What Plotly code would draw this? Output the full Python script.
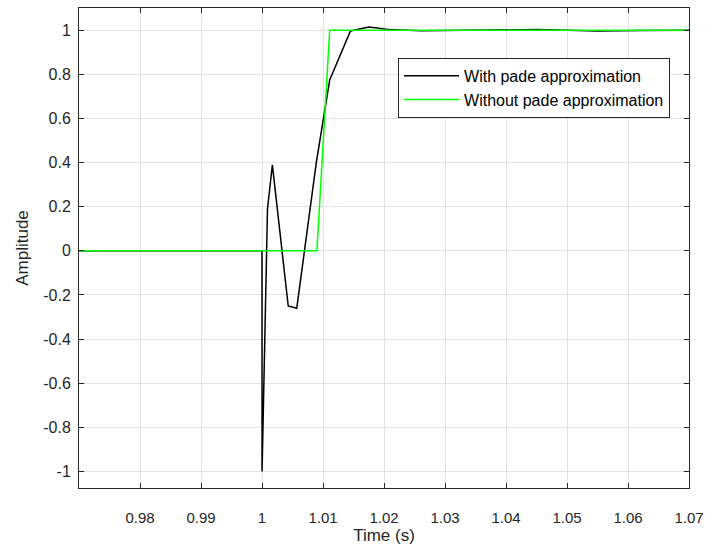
import plotly.graph_objects as go

# With pade approximation (black)
t_pade = [0.97, 1.0, 1.00001, 1.0009, 1.0017, 1.0043, 1.0057, 1.0089, 1.0111, 1.0145,
          1.0175, 1.021, 1.026, 1.032, 1.038, 1.045, 1.050, 1.055, 1.062, 1.07]
y_pade = [0.0, 0.0, -1.0, 0.19, 0.39, -0.25, -0.26, 0.40, 0.775, 0.997,
          1.015, 1.003, 0.998, 0.999, 1.0, 1.003, 1.0, 0.997, 0.999, 1.0]

# Without pade approximation (green)
t_nopade = [0.97, 1.009, 1.0111, 1.07]
y_nopade = [0.0, 0.0, 1.0, 1.0]

x_ticks = [0.98, 0.99, 1.0, 1.01, 1.02, 1.03, 1.04, 1.05, 1.06, 1.07]
x_ticklabels = ["0.98", "0.99", "1", "1.01", "1.02", "1.03", "1.04", "1.05", "1.06", "1.07"]
y_ticks = [-1, -0.8, -0.6, -0.4, -0.2, 0, 0.2, 0.4, 0.6, 0.8, 1]
y_ticklabels = ["-1", "-0.8", "-0.6", "-0.4", "-0.2", "0", "0.2", "0.4", "0.6", "0.8", "1"]

FONT = "Liberation Sans, Arial"
TXT = "#262626"

fig = go.Figure()
fig.add_trace(go.Scatter(x=t_pade, y=y_pade, mode="lines", name="With pade approximation",
                         line=dict(color="black", width=1.5)))
fig.add_trace(go.Scatter(x=t_nopade, y=y_nopade, mode="lines", name="Without pade approximation",
                         line=dict(color="#00ff00", width=1.5)))

axis_common = dict(
    showline=True, linecolor=TXT, linewidth=1, mirror="ticks",
    ticks="inside", ticklen=5, tickcolor=TXT,
    showgrid=True, gridcolor="#e3e3e3", gridwidth=1, zeroline=False,
)

fig.update_xaxes(range=[0.97, 1.07], tickvals=x_ticks, ticktext=x_ticklabels,
                 ticklabelstandoff=16, tickfont=dict(family=FONT, size=15, color=TXT),
                 title=dict(text="Time (s)", font=dict(family=FONT, size=17, color=TXT), standoff=3),
                 **axis_common)
fig.update_yaxes(range=[-1.075, 1.101], tickvals=y_ticks, ticktext=y_ticklabels,
                 ticklabelstandoff=4, tickfont=dict(family=FONT, size=16, color=TXT),
                 title=dict(text="Amplitude", font=dict(family=FONT, size=17, color=TXT), standoff=10),
                 **axis_common)

fig.update_layout(
    width=705, height=550,
    margin=dict(l=79, r=16, t=8, b=62, autoexpand=False),
    plot_bgcolor="white", paper_bgcolor="white",
    legend=dict(x=0.523, y=0.896, xanchor="left", yanchor="top",
                bgcolor="white", bordercolor=TXT, borderwidth=1,
                font=dict(family=FONT, size=16, color="black"),
                tracegroupgap=0, itemwidth=55),
    showlegend=True,
)

fig.write_html("out.html")
